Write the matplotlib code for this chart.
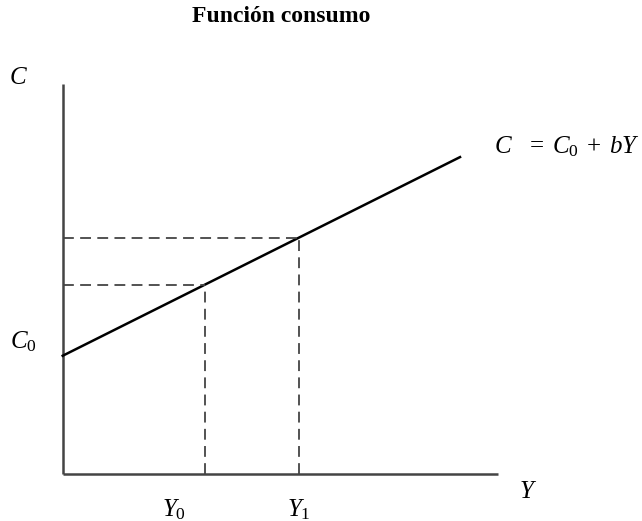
import matplotlib
matplotlib.use("Agg")
import matplotlib.pyplot as plt

# model values (units: same scale on both axes)
c0 = 2.5          # autonomous consumption
b = 0.5           # marginal propensity to consume
y_marks = [3.0, 5.0]            # Y0, Y1
y_mark_labels = [r"$Y_0$", r"$Y_1$"]
y_line_end = 8.4
y_axis_end = 9.2
c_axis_end = 8.25

plt.rcParams["mathtext.fontset"] = "custom"
plt.rcParams["mathtext.rm"] = "Liberation Serif"
plt.rcParams["mathtext.it"] = "Liberation Serif:italic"
plt.rcParams["font.family"] = "Liberation Serif"

fig = plt.figure(figsize=(6.42, 5.21), dpi=100)
ax = fig.add_axes([0, 0, 1, 1])
unit = 47.3
ax.set_xlim(-62.7 / unit, (642 - 62.7) / unit)
ax.set_ylim(-(521 - 474) / unit, 474 / unit)
ax.axis("off")

axis_col = "#444444"
ax.plot([0, 0], [0, c_axis_end], color=axis_col, lw=1.8, solid_capstyle="butt")
ax.plot([0, y_axis_end], [0, 0], color=axis_col, lw=1.8, solid_capstyle="butt")

ax.plot([0, y_line_end], [c0, c0 + b * y_line_end], color="black", lw=1.8)

for y in y_marks:
    c = c0 + b * y
    ax.plot([0, y], [c, c], color=axis_col, lw=1.3, linestyle=(0, (6, 3.5)))
    ax.plot([y, y], [0, c], color=axis_col, lw=1.3, linestyle=(0, (6, 3.5)))

fs = 18
fig.text(281 / 642, 1 - 17 / 521, "Función consumo", ha="center", va="center",
         fontsize=17, fontweight="bold")
fig.text(18 / 642, 1 - 78 / 521, r"$C$", ha="center", va="center", fontsize=fs)
fig.text(10 / 642, 1 - 342 / 521, r"$C_0$", ha="left", va="center", fontsize=fs)
fig.text(528 / 642, 1 - 492 / 521, r"$Y$", ha="center", va="center", fontsize=fs)
fig.text(494 / 642, 1 - 147 / 521, r"$C\;\;\;=\;C_0\;+\;bY$", ha="left", va="center",
         fontsize=fs)

offsets = [-22, 0]
for y, lab, off in zip(y_marks, y_mark_labels, offsets):
    ax.annotate(lab, xy=(y, 0), xytext=(off, -26), textcoords="offset points",
                ha="center", va="center", fontsize=fs)

fig.savefig("out.png", dpi=100)
